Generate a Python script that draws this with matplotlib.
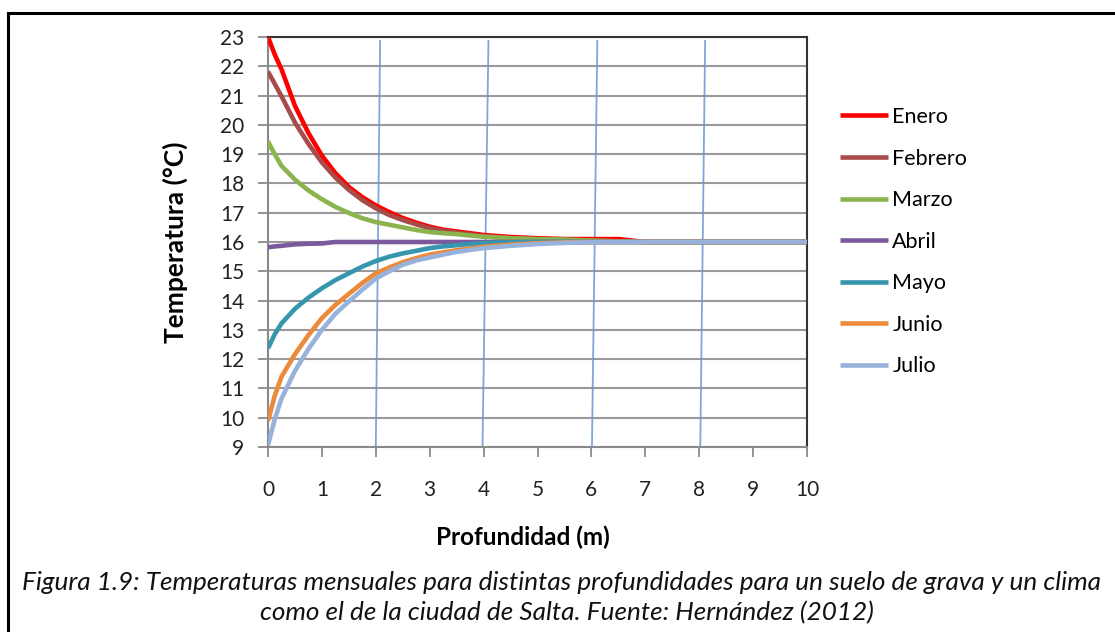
import numpy as np
import matplotlib
matplotlib.use("Agg")
import matplotlib.pyplot as plt
from matplotlib.lines import Line2D

plt.rcParams['font.family'] = ['Lato', 'DejaVu Sans']

# profundidad (m)
depth = [0, 0.125, 0.25, 0.5, 0.75, 1.0, 1.25, 1.5, 1.75, 2.0, 2.25, 2.5, 2.75, 3.0,
         3.25, 3.5, 3.75, 4.0, 4.5, 5.0, 5.5, 6.0, 6.5, 7.0, 10.0]

enero = [23.0, 22.4, 21.9, 20.65, 19.72, 18.95, 18.35, 17.88, 17.53, 17.25, 17.02, 16.82, 16.66, 16.52,
         16.42, 16.36, 16.30, 16.24, 16.17, 16.13, 16.10, 16.10, 16.10, 16.0, 16.0]
febrero = [21.82, 21.4, 20.98, 20.08, 19.35, 18.72, 18.2, 17.78, 17.43, 17.15, 16.92, 16.75, 16.6, 16.47,
           16.38, 16.32, 16.26, 16.2, 16.13, 16.1, 16.08, 16.05, 16.02, 16.0, 16.0]
marzo = [19.43, 19.0, 18.6, 18.13, 17.76, 17.46, 17.2, 16.99, 16.81, 16.68, 16.59, 16.5, 16.41, 16.34,
         16.3, 16.27, 16.22, 16.18, 16.13, 16.1, 16.08, 16.05, 16.02, 16.0, 16.0]
abril = [15.82, 15.85, 15.87, 15.92, 15.94, 15.95, 16.0, 16.0, 16.0, 16.0, 16.0, 16.0, 16.0, 16.0,
         16.0, 16.0, 16.0, 16.0, 16.0, 16.0, 16.0, 16.0, 16.0, 16.0, 16.0]
mayo = [12.37, 12.85, 13.22, 13.72, 14.1, 14.42, 14.7, 14.93, 15.16, 15.35, 15.5, 15.61, 15.7, 15.79,
        15.85, 15.89, 15.93, 15.96, 15.99, 16.0, 16.0, 16.0, 16.0, 16.0, 16.0]
junio = [9.89, 10.75, 11.4, 12.17, 12.82, 13.4, 13.85, 14.23, 14.6, 14.93, 15.13, 15.31, 15.45, 15.57,
         15.65, 15.72, 15.78, 15.84, 15.91, 15.96, 15.99, 16.0, 16.0, 16.0, 16.0]
julio = [9.06, 9.95, 10.65, 11.6, 12.35, 13.0, 13.55, 13.97, 14.37, 14.75, 15.0, 15.22, 15.37, 15.47,
         15.57, 15.66, 15.73, 15.79, 15.87, 15.93, 15.97, 15.99, 16.0, 16.0, 16.0]

meses = ['Enero', 'Febrero', 'Marzo', 'Abril', 'Mayo', 'Junio', 'Julio']
series = [enero, febrero, marzo, abril, mayo, junio, julio]
colores = ['#FF0000', '#A84C4A', '#8CB44E', '#7A5A9C', '#3596AE', '#EB8A3A', '#98B2DC']

# lineas guia azules (dibujadas a mano, algo inclinadas)
guia_base = [2.0, 3.98, 6.01, 8.02]
guia_tope = [2.08, 4.09, 6.11, 8.11]

fig = plt.figure(figsize=(11.15, 6.32), dpi=100)
ax = fig.add_axes([268/1115, 1-447/632, (807-268)/1115, (447-37)/632])

ax.set_xlim(0, 10)
ax.set_ylim(9, 23)
ax.set_xticks(range(0, 11))
ax.set_yticks(range(9, 24))
ax.yaxis.grid(True, color='#9a9a9a', lw=1.5, zorder=0)
ax.set_axisbelow(True)

for xb, xt in zip(guia_base, guia_tope):
    ax.plot([xb, xt], [9, 22.87], color='#6a96d2', lw=1.3, alpha=0.85, zorder=1)

for nombre, ys, c in zip(meses, series, colores):
    ax.plot(depth, ys, color=c, lw=3.3, label=nombre, zorder=3, solid_capstyle='butt')

for s in ['left', 'bottom']:
    ax.spines[s].set_color('#8a8a8a')
    ax.spines[s].set_linewidth(1.5)
for s in ['top', 'right']:
    ax.spines[s].set_color('#333333')
    ax.spines[s].set_linewidth(1.5)

ax.tick_params(axis='both', direction='out', length=7, width=1.3, color='#8a8a8a',
               labelsize=15, labelcolor='#222222')
ax.tick_params(axis='x', pad=17)
ax.tick_params(axis='y', pad=10)

ax.set_ylabel('Temperatura (°C)', fontsize=19, fontweight='bold', va='center')
ax.yaxis.set_label_coords(-0.1725, 0.5)
ax.set_xlabel('Profundidad (m)', fontsize=17.5, fontweight='bold', va='center')
ax.xaxis.set_label_coords(0.473, -0.2195)

ax.legend(loc='upper left', bbox_to_anchor=(840/1115, 1-107/632), bbox_transform=fig.transFigure,
          frameon=False, fontsize=15.5, handlelength=2.23, handletextpad=0.2, labelspacing=1.0,
          borderpad=0, borderaxespad=0)

# marco exterior y leyenda de la figura
fig.add_artist(Line2D([8/1115, 1], [1-13/632, 1-13/632], transform=fig.transFigure, color='black', lw=2.2))
fig.add_artist(Line2D([8/1115, 8/1115], [0, 1-13/632], transform=fig.transFigure, color='black', lw=2.2))

fig.text(562/1115, 1-583/632, 'Figura 1.9: Temperaturas mensuales para distintas profundidades para un suelo de grava y un clima',
         ha='center', va='center', fontsize=18.8, style='italic', color='#111111')
fig.text(567/1115, 1-613/632, 'como el de la ciudad de Salta. Fuente: Hernández (2012)',
         ha='center', va='center', fontsize=18.8, style='italic', color='#111111')

fig.savefig('out.png', dpi=100)
